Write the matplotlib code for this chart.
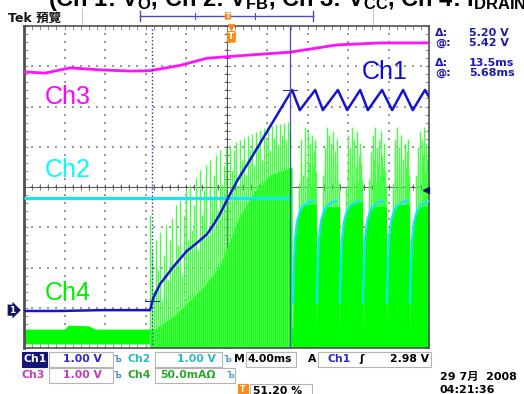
import numpy as np
import matplotlib
matplotlib.use("Agg")
import matplotlib.pyplot as plt
from matplotlib.patches import Polygon, Rectangle
from matplotlib.lines import Line2D

plt.rcParams['font.family'] = ['DejaVu Sans', 'Noto Sans CJK TC']
plt.rcParams['mathtext.fontset'] = 'custom'
plt.rcParams['mathtext.rm'] = 'Liberation Sans'
plt.rcParams['mathtext.bf'] = 'Liberation Sans:bold'
plt.rcParams['mathtext.it'] = 'Liberation Sans:italic'

# ---------------- data (screen divisions: x 0..10 (4 ms/div), y 0..8) ----------------
ch1_t = [0.00, 0.89, 1.88, 3.11, 3.14, 3.19, 3.36, 3.53, 3.68, 3.85, 4.02, 4.27, 4.52, 4.69,
         4.84, 5.04, 5.26, 5.58, 5.95, 6.32, 6.62, 6.81, 7.19, 7.38, 7.75, 7.98, 8.30, 8.49,
         8.84, 9.09, 9.36, 9.60, 9.90, 10.0]
ch1_v = [0.92, 0.92, 0.94, 0.94, 1.04, 1.24, 1.59, 1.81, 2.01, 2.21, 2.41, 2.61, 2.83, 3.08,
         3.33, 3.73, 4.15, 4.67, 5.29, 5.91, 6.41, 5.91, 6.41, 5.91, 6.41, 5.91, 6.41, 5.91,
         6.41, 5.91, 6.41, 5.91, 6.41, 6.24]

ch3_t = [0.00, 0.52, 1.14, 1.88, 2.62, 3.11, 3.85, 4.52, 5.58, 6.57, 7.73, 8.79, 10.0]
ch3_v = [6.86, 6.83, 6.96, 6.91, 6.88, 6.89, 7.02, 7.20, 7.28, 7.35, 7.53, 7.58, 7.58]

ch2_t = [0.0, 6.57]
ch2_v = [3.73, 3.73]
ch2_recovery_start = [6.64, 7.23, 7.80, 8.37, 8.96, 9.53]
recovery_dt = [0.0, 0.025, 0.049, 0.099, 0.173, 0.272, 0.395, 0.494]
recovery_v = [1.12, 2.07, 2.68, 3.13, 3.40, 3.55, 3.63, 3.65]

band_t = [0.0, 1.0, 1.1, 1.6, 1.75, 3.11, 10.0]
band_lo = [0.10, 0.10, 0.10, 0.10, 0.10, 0.10, 0.10]
band_hi = [0.47, 0.47, 0.57, 0.55, 0.47, 0.47, 0.50]

dense_t = [3.11, 3.36, 3.73, 4.10, 4.47, 4.84, 5.09, 5.33, 5.70, 6.07, 6.62]
dense_top = [0.32, 0.57, 0.82, 1.19, 1.57, 2.06, 2.68, 3.30, 3.90, 4.30, 4.50]

spike_t = [3.11, 3.16, 3.21, 3.26, 3.31, 3.36, 3.41, 3.46, 3.51, 3.56, 3.60, 3.65, 3.70, 3.75,
           3.80, 3.85, 3.90, 3.95, 4.00, 4.05, 4.10, 4.15, 4.20, 4.25, 4.30, 4.35, 4.40, 4.44,
           4.49, 4.54, 4.59, 4.64, 4.69, 4.74, 4.79, 4.84, 4.89, 4.94, 4.99, 5.04, 5.09, 5.14,
           5.19, 5.23, 5.28, 5.33, 5.38, 5.43, 5.48, 5.53, 5.58, 5.63, 5.68, 5.73, 5.78, 5.83,
           5.88, 5.93, 5.98, 6.02, 6.07, 6.12, 6.17, 6.22, 6.27, 6.32, 6.37, 6.42, 6.47, 6.52,
           6.57,
           6.80, 6.83, 6.85, 6.88, 6.90, 6.93, 6.95, 6.98, 7.00, 7.03, 7.05, 7.08, 7.10, 7.13,
           7.15, 7.18, 7.20,
           7.39, 7.42, 7.44, 7.47, 7.49, 7.52, 7.54, 7.57, 7.59, 7.62, 7.64, 7.67, 7.69, 7.72,
           7.74, 7.77,
           7.96, 7.99, 8.01, 8.04, 8.06, 8.09, 8.11, 8.14, 8.16, 8.19, 8.21, 8.24, 8.26, 8.29,
           8.31, 8.34,
           8.53, 8.56, 8.58, 8.61, 8.63, 8.66, 8.68, 8.71, 8.73, 8.76, 8.78, 8.81, 8.83, 8.86,
           8.88, 8.91, 8.93,
           9.12, 9.15, 9.17, 9.20, 9.22, 9.25, 9.27, 9.30, 9.32, 9.35, 9.37, 9.40, 9.42, 9.45,
           9.47, 9.50,
           9.69, 9.72, 9.74, 9.77, 9.79, 9.82, 9.84, 9.87, 9.89, 9.92, 9.94, 9.97]
spike_top = [3.30, 2.43, 1.44, 2.68, 1.94, 2.88, 1.19, 2.31, 3.06, 1.69, 2.68, 3.23, 2.06, 3.55,
             2.56, 3.68, 1.81, 3.30, 3.93, 2.68, 4.05, 2.93, 3.55, 4.22, 2.43, 4.42, 3.30, 3.93,
             4.55, 2.81, 4.67, 3.68, 4.30, 4.80, 3.43, 4.92, 4.05, 4.55, 4.97, 3.80, 5.04, 4.42,
             4.92, 5.12, 4.05, 5.17, 4.67, 5.22, 4.30, 5.27, 4.92, 5.32, 4.55, 5.37, 5.04, 5.42,
             4.67, 5.47, 5.17, 5.49, 4.92, 5.52, 5.22, 5.54, 5.04, 5.57, 5.29, 5.59, 5.17, 5.61,
             5.42,
             4.1, 4.6, 5.2, 4.3, 3.9, 5.5, 4.8, 4.2, 5.4, 4.6, 5.1, 4.0, 5.3, 4.5,
             4.9, 5.2, 4.4,
             4.3, 5.0, 4.5, 5.5, 4.0, 4.8, 5.3, 4.4, 5.1, 4.7, 5.4, 4.2, 4.9, 5.2,
             4.6, 4.1,
             4.0, 4.7, 5.3, 4.4, 5.0, 5.5, 4.3, 4.9, 5.2, 4.5, 5.4, 4.1, 4.8, 5.1,
             4.6, 4.2,
             4.2, 4.9, 4.4, 5.3, 4.7, 5.5, 4.1, 5.0, 4.6, 5.2, 4.3, 5.4, 4.8, 4.5,
             5.1, 4.4, 4.0,
             4.1, 4.8, 5.2, 4.4, 5.5, 4.6, 5.0, 4.3, 5.3, 4.7, 4.2, 5.1, 4.5, 4.9,
             5.2, 4.3,
             4.3, 5.0, 4.6, 5.4, 4.2, 5.2, 4.8, 5.5, 4.4, 5.1, 4.7, 5.0]

block_end = [7.23, 7.80, 8.37, 8.96, 9.53, 10.0]
block_top = [3.55, 3.50, 3.60, 3.50, 3.55, 3.50]

cursor_t = [3.16, 6.57]
cursor_level = [1.17, 6.41]
ch1_ground = 0.94
trig_level_V = 2.98
trig_pos = 5.12

readout_labels = ["Δ:", "@:", "Δ:", "@:"]
readout_values = ["5.20 V", "5.42 V", "13.5ms", "5.68ms"]

# ---------------- figure ----------------
W, H = 524, 394
fig = plt.figure(figsize=(W / 100, H / 100), dpi=100)
fig.patch.set_facecolor('white')


def fx(px):
    return px / W


def fy(py):
    return 1 - py / H


ax = fig.add_axes([fx(24), fy(348), 405 / W, 322 / H])
ax.set_xlim(0, 10)
ax.set_ylim(0, 8)
for s in ax.spines.values():
    s.set_color('#505050')
    s.set_linewidth(1.2)
ax.spines['left'].set_linewidth(2.0)
ax.set_xticks(np.arange(0, 10.001, 0.2))
ax.set_yticks(np.arange(0, 8.001, 0.2))
ax.tick_params(direction='in', length=3, width=0.6, color='#808080', top=True, right=True,
               labelbottom=False, labelleft=False)

# graticule dots
gd = dict(s=1.6, c='#9a9a9a', marker='s', linewidths=0, zorder=1)
for k in range(1, 10):
    yy = np.arange(0, 8.001, 0.2)
    ax.scatter(np.full_like(yy, k), yy, **gd)
for j in range(1, 8):
    xx = np.arange(0, 10.001, 0.2)
    ax.scatter(xx, np.full_like(xx, j), **gd)
# centre axes
ax.axhline(4, color='#555555', lw=0.7, zorder=1)
ax.axvline(5, color='#555555', lw=0.7, zorder=1)
xx = np.arange(0, 10.001, 0.2)
ax.scatter(xx, np.full_like(xx, 4), marker='|', s=14, c='#555555', linewidths=0.6, zorder=1)
yy = np.arange(0, 8.001, 0.2)
ax.scatter(np.full_like(yy, 5), yy, marker='_', s=14, c='#555555', linewidths=0.6, zorder=1)

# Ch4 (green)
G = '#00ff00'
ax.fill_between(band_t, band_lo, band_hi, color=G, lw=0, zorder=2)
ax.fill_between(dense_t, 0, dense_top, color=G, lw=0, zorder=2)
ax.vlines(spike_t, 0, spike_top, color='#45ff45', lw=1.0, zorder=2)
for s, e, top in zip(ch2_recovery_start, block_end, block_top):
    verts = [(s, 0)] + [(s + dt + 0.01, min(v, top)) for dt, v in zip(recovery_dt, recovery_v)]
    verts += [(e, top), (e, 0)]
    ax.add_patch(Polygon(verts, closed=True, fc=G, ec='none', zorder=2))

# Ch2 (cyan)
C = '#12e6f5'
ax.plot(ch2_t, ch2_v, color=C, lw=2.2, zorder=4, solid_capstyle='butt')
for s in ch2_recovery_start:
    ax.plot([s + dt for dt in recovery_dt], recovery_v, color=C, lw=1.6, zorder=4)

# Ch3 (magenta)
ax.plot(ch3_t, ch3_v, color='#ff10ff', lw=2.0, zorder=4)

# Ch1 (blue)
ax.plot(ch1_t, ch1_v, color='#1414d2', lw=1.8, zorder=5)

# cursors
ax.axvline(cursor_t[0], color='#3030b0', lw=1.0, ls=(0, (1, 1.6)), zorder=6)
ax.axvline(cursor_t[1], color='#4848c8', lw=0.9, zorder=6)
for t, lv in zip(cursor_t, cursor_level):
    ax.plot([t - 0.18, t + 0.18], [lv, lv], color='#2a2a9a', lw=0.8, zorder=6)

# trigger level marker
ax.plot([9.93], [ch1_ground + trig_level_V], marker='<', ms=5, color='#101070', zorder=7, clip_on=False)
# channel 1 ground marker
ax.text(-0.30, ch1_ground, '1', ha='center', va='center', color='white', fontsize=6.5,
        weight='bold', clip_on=False, zorder=8,
        bbox=dict(boxstyle='rarrow,pad=0.12', fc='#121265', ec='none'))
# trigger position marker
ax.text(trig_pos, 7.73, 'T', ha='center', va='center', color='white', fontsize=6.5,
        weight='bold', zorder=8,
        bbox=dict(boxstyle='round,pad=0.15', fc='#ff8a1c', ec='none'))
ax.plot([trig_pos], [7.97], marker='v', ms=5, color='#ff8a1c', zorder=8, clip_on=False)

# channel labels
lab = dict(fontsize=18, family='Liberation Sans', zorder=9, va='center', ha='left')
ax.text(0.52, (348 - 97) / 40.25, 'Ch3', color='#ff00ff', **lab)
ax.text(0.52, (348 - 170) / 40.25, 'Ch2', color='#00ffff', **lab)
ax.text(0.52, (348 - 293) / 40.25, 'Ch4', color='#00ee00', **lab)
ax.text(8.35, (348 - 72) / 40.25, 'Ch1', color='#0a0ae6', **lab)

# ---------------- header ----------------
fig.text(fx(48), fy(6.0), r"(Ch 1: V$_\mathbf{O}$, Ch 2: V$_\mathbf{FB}$, Ch 3: V$_\mathbf{CC}$, Ch 4: I$_\mathbf{DRAIN}$)",
         family='Liberation Sans', weight='bold', fontsize=17, ha='left', va='baseline', color='black')
fig.text(fx(8), fy(18), 'Tek 預覽', fontsize=9, weight='bold', ha='left', va='center',
         family=['DejaVu Sans', 'Noto Sans CJK TC'], color='#111111')

# record-view bracket
BL = '#4a4ad0'
def fline(xs, ys, **kw):
    fig.add_artist(Line2D([fx(x) for x in xs], [fy(y) for y in ys], transform=fig.transFigure, **kw))

fline([140, 313], [15.5, 15.5], color=BL, lw=1.0)
fline([140, 140], [11, 21], color=BL, lw=1.0)
fline([313, 313], [11, 21], color=BL, lw=1.0)
fline([195, 195], [12.5, 18.5], color=BL, lw=0.8)
fline([255, 255], [12.5, 18.5], color=BL, lw=0.8)
fline([82, 82], [9, 24], color='#c8c8c8', lw=0.8)
fline([373, 373], [9, 24], color='#c8c8c8', lw=0.8)
fig.text(fx(228), fy(16), 'T', ha='center', va='center', color='white', fontsize=5,
         weight='bold', bbox=dict(boxstyle='round,pad=0.1', fc='#ff8a1c', ec='none'))

# cursor readouts
RB = '#1c1ca8'
for i, (l, v) in enumerate(zip(readout_labels, readout_values)):
    yy_ = [33, 43, 63, 73][i]
    fig.text(fx(435), fy(yy_), l, color=RB, fontsize=8, weight='bold', ha='left', va='center')
    fig.text(fx(469), fy(yy_), v, color=RB, fontsize=8, weight='bold', ha='left', va='center')

# ---------------- status bar ----------------
def fbox(x0, x1, y0, y1, fc='none', ec='#b4b4b4'):
    fig.add_artist(Rectangle((fx(x0), fy(y1)), (x1 - x0) / W, (y1 - y0) / H, transform=fig.transFigure,
                             fc=fc, ec=ec, lw=0.8))

def ftext(x, y, s, color='black', size=7.8, ha='left'):
    fig.text(fx(x), fy(y), s, color=color, fontsize=size, weight='bold', ha=ha, va='center',
             family=['DejaVu Sans', 'Noto Sans CJK TC'])

c1, c2, c3, c4 = '#2a2ac8', '#2cb8cc', '#c03cc0', '#2aa82a'
r1, r2, r3 = 359.5, 375.5, 391
fbox(22, 47, 352, 367, fc='#14147a', ec='#14147a')
ftext(23.5, r1, 'Ch1', 'white')
fbox(49, 113, 352, 367)
ftext(63, r1, '1.00 V', c1)
ftext(114, r1, 'Ъ', '#5a8ad8', size=6)
ftext(128, r1, 'Ch2', c2)
fbox(155, 222, 352, 367)
ftext(177, r1, '1.00 V', c2)
ftext(224, r1, 'Ъ', '#5a9ad8', size=6)
ftext(234, r1, 'M', 'black')
fbox(246, 296, 352, 367)
ftext(248, r1, '4.00ms', 'black')
ftext(308, r1, 'A', 'black')
fbox(318, 431, 352, 367)
ftext(328, r1, 'Ch1', c1)
ftext(359, r1, 'ʃ', 'black')
ftext(390, r1, '2.98 V', 'black')

ftext(22, r2, 'Ch3', c3)
fbox(49, 113, 368, 383)
ftext(63, r2, '1.00 V', c3)
ftext(114, r2, 'Ъ', '#5a8ad8', size=6)
ftext(128, r2, 'Ch4', c4)
fbox(155, 235, 368, 383)
ftext(160, r2, '50.0mAΩ', c4)
ftext(227, r2, 'Ъ', '#5a9ad8', size=6)

fbox(238, 248, 384, 394, fc='#ff8a1c', ec='#ff8a1c')
ftext(243, 389.5, 'T', 'white', size=5.5, ha='center')
fbox(250, 312, 384, 398)
ftext(253, r3, '51.20 %', 'black')

ftext(440, 377, '29 7月  2008', 'black', size=8)
ftext(440, 390, '04:21:36', 'black', size=8)

fig.savefig('out.png', dpi=100)
